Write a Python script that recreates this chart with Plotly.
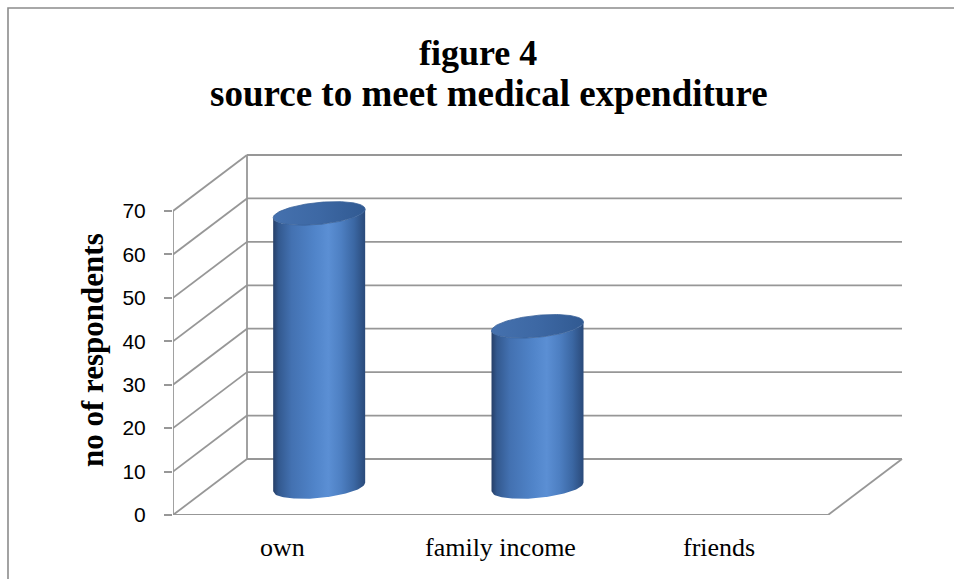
import numpy as np
import plotly.graph_objects as go

# ---- data ----
categories = ["own", "family income", "friends"]
respondents = [63, 37, 0]
y_ticks = [0, 10, 20, 30, 40, 50, 60, 70]
title_lines = ["figure 4", "source to meet medical expenditure"]
y_title = "no of respondents"

# ---- page / plot geometry (pixels) ----
W, H = 954, 579
PLOT_L, PLOT_R = 173, 904
PLOT_T, PLOT_B = 150, 515
PX_PER_CAT = 218.33      # horizontal pixels per category slot
PX_PER_UNIT = 4.343      # vertical pixels per respondent

# depth of the 3-D box expressed in axis units
DEPTH_X = 74 / PX_PER_CAT
DEPTH_Y = 56 / PX_PER_UNIT

X_MIN = -0.5
X_MAX = X_MIN + (PLOT_R - PLOT_L) / PX_PER_CAT
Y_MAX = (PLOT_B - PLOT_T) / PX_PER_UNIT
Y_TOP = max(y_ticks)
X_END = len(categories) - 0.5

GRID = "#979797"
GRID_W = 1.8


def px_to_paper_x(px):
    return (px - PLOT_L) / (PLOT_R - PLOT_L)


def px_to_paper_y(py):
    return (PLOT_B - py) / (PLOT_B - PLOT_T)


def line(x0, y0, x1, y1, **kw):
    d = dict(type="line", xref="x", yref="y", x0=x0, y0=y0, x1=x1, y1=y1,
             line=dict(color=GRID, width=GRID_W), layer="below")
    d.update(kw)
    return d


shapes = []
bx0 = X_MIN + DEPTH_X
bx1 = X_END + DEPTH_X
# back wall horizontals + side wall diagonals
for v in y_ticks:
    shapes.append(line(bx0, v + DEPTH_Y, bx1, v + DEPTH_Y))
    shapes.append(line(X_MIN, v, bx0, v + DEPTH_Y))
# back wall left edge
shapes.append(line(bx0, DEPTH_Y, bx0, Y_TOP + DEPTH_Y))
# floor front edge and right edge
shapes.append(line(X_MIN, 0, X_END, 0))
shapes.append(line(X_END, 0, bx1, DEPTH_Y))
# front vertical value axis
shapes.append(line(X_MIN, 0, X_MIN, Y_TOP))
# category separators below the floor
for k in range(len(categories) + 1):
    xv = X_MIN + k
    shapes.append(dict(type="line", xref="x", yref="y", ysizemode="pixel",
                       yanchor=0, x0=xv, x1=xv, y0=0, y1=-7,
                       line=dict(color=GRID, width=GRID_W), layer="below"))
# outer chart border
shapes.append(dict(type="rect", xref="paper", yref="paper",
                   x0=px_to_paper_x(8), x1=px_to_paper_x(980),
                   y0=px_to_paper_y(600), y1=px_to_paper_y(8),
                   line=dict(color="#8c8c8c", width=1.6),
                   fillcolor="rgba(0,0,0,0)", layer="below"))

BODY_SCALE = [
    [0.00, "#263f68"],
    [0.06, "#33598f"],
    [0.20, "#4371b1"],
    [0.45, "#5084c9"],
    [0.60, "#5b8fd4"],
    [0.74, "#4d7fc2"],
    [0.88, "#3b67a3"],
    [1.00, "#2a4a7a"],
]
CAP_SCALE = [
    [0.0, "#4571ae"],
    [0.5, "#3d68a4"],
    [1.0, "#315a92"],
]

traces = []
a = 46 / PX_PER_CAT          # cylinder radius (x)
b = 11 / PX_PER_UNIT         # ellipse half-height (y)
tilt = 4.3 / PX_PER_UNIT     # slight perspective tilt
u = np.linspace(-1, 1, 81)
th = np.linspace(0, 2 * np.pi, 161)
for i, v in enumerate(respondents):
    if v <= 0:
        continue
    xc = i + DEPTH_X / 2
    yb = DEPTH_Y / 2
    yt = yb + v
    xs = xc + a * u
    front = -b * np.sqrt(1 - u ** 2)
    bottom = yb + tilt * u + front
    top = yt + tilt * u + front
    bx = np.concatenate([xs, xs[::-1]])
    by = np.concatenate([bottom, top[::-1]])
    traces.append(go.Scatter(
        x=bx, y=by, mode="lines", fill="toself",
        line=dict(width=0, color="rgba(0,0,0,0)"),
        fillgradient=dict(type="horizontal", colorscale=BODY_SCALE),
        hoverinfo="skip", showlegend=False))
    cx = xc + a * np.cos(th)
    cy = yt + tilt * np.cos(th) + b * np.sin(th)
    traces.append(go.Scatter(
        x=cx, y=cy, mode="lines", fill="toself",
        line=dict(width=0.8, color="#3a6299"),
        fillgradient=dict(type="horizontal", colorscale=CAP_SCALE),
        hoverinfo="skip", showlegend=False,
        name=f"{categories[i]}: {v}"))

fig = go.Figure(traces)

SERIF = "Liberation Serif"
annotations = [
    dict(text=f"<b>{title_lines[0]}</b>", xref="paper", yref="paper",
         x=px_to_paper_x(478), y=px_to_paper_y(52.5), xanchor="center",
         yanchor="middle", showarrow=False,
         font=dict(family=SERIF, size=36, color="#000")),
    dict(text=f"<b>{title_lines[1]}</b>", xref="paper", yref="paper",
         x=px_to_paper_x(489), y=px_to_paper_y(93.5), xanchor="center",
         yanchor="middle", showarrow=False,
         font=dict(family=SERIF, size=37, color="#000")),
    dict(text=f"<b>{y_title}</b>", xref="paper", yref="paper",
         x=px_to_paper_x(92), y=px_to_paper_y(350), xanchor="center",
         yanchor="middle", textangle=-90, showarrow=False,
         font=dict(family=SERIF, size=31, color="#000")),
]
for i, c in enumerate(categories):
    annotations.append(dict(text=c, xref="x", yref="paper", x=i,
                            y=px_to_paper_y(547), xanchor="center",
                            yanchor="middle", showarrow=False,
                            font=dict(family=SERIF, size=26, color="#000")))

fig.update_layout(
    width=W, height=H,
    margin=dict(l=PLOT_L, r=W - PLOT_R, t=PLOT_T, b=H - PLOT_B, pad=0),
    paper_bgcolor="white", plot_bgcolor="white",
    showlegend=False,
    shapes=shapes,
    annotations=annotations,
    xaxis=dict(range=[X_MIN, X_MAX], showgrid=False, zeroline=False,
               showline=False, showticklabels=False, ticks="",
               fixedrange=True),
    yaxis=dict(range=[0, Y_MAX], showgrid=False, zeroline=False,
               showline=False, tickvals=y_ticks,
               ticktext=[str(t) for t in y_ticks],
               ticks="outside", ticklen=8, tickwidth=GRID_W,
               tickcolor=GRID, ticklabelstandoff=14,
               tickfont=dict(family="Liberation Sans", size=21,
                             color="#000"),
               fixedrange=True),
)

fig.write_html("out.html")
